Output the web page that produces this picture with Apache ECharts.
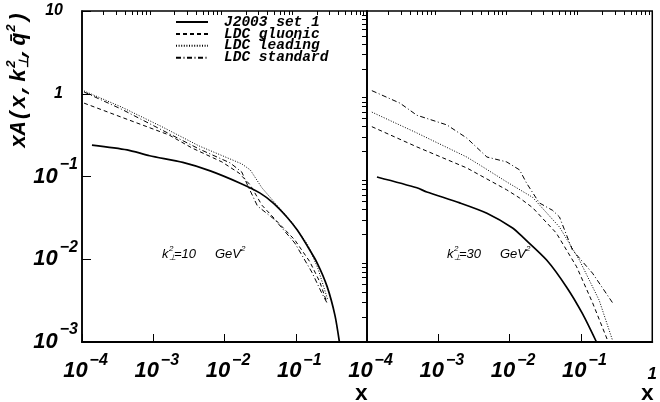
<!DOCTYPE html>
<html><head><meta charset="utf-8">
<script src="https://cdn.jsdelivr.net/npm/echarts@6/dist/echarts.min.js"></script>
<style>html,body{margin:0;padding:0;background:#fff}#c{width:660px;height:402px}</style>
</head><body><div id="c"></div>
<script>
// ---- data ----
const seriesNames = ['J2003 set 1', 'LDC gluonic', 'LDC leading', 'LDC standard'];
const panelLabels = ['10', '30']; // k_perp^2 in GeV^2

// left panel, k⊥² = 10 GeV²
const L_x_J2003 = [1.38e-4, 4.3e-4, 8.9e-4, 2.6e-3, 6.3e-3, 1.66e-2, 3.16e-2, 4.8e-2, 7.6e-2, 0.105, 0.145, 0.20, 0.275, 0.355, 0.41];
const L_y_J2003 = [0.24, 0.21, 0.178, 0.148, 0.117, 0.083, 0.063, 0.048, 0.032, 0.0225, 0.0145, 0.009, 0.0047, 0.0021, 0.001];
const L_x_gluonic = [1.07e-4, 3.6e-4, 1.66e-3, 3.5e-3, 9.2e-3, 1.6e-2, 2.3e-2, 3.35e-2, 5.6e-2, 9.7e-2, 0.158, 0.218, 0.273];
const L_y_gluonic = [0.77, 0.52, 0.318, 0.221, 0.150, 0.110, 0.079, 0.045, 0.028, 0.0171, 0.0093, 0.0053, 0.0030];
const L_x_leading = [1.07e-4, 3.6e-4, 1.32e-3, 4.4e-3, 1.75e-2, 2.3e-2, 3.35e-2, 5.1e-2, 8.8e-2, 0.148, 0.204, 0.256, 0.282];
const L_y_leading = [1.08, 0.69, 0.40, 0.234, 0.142, 0.120, 0.073, 0.048, 0.028, 0.0149, 0.0078, 0.0042, 0.0032];
const L_x_standard = [1.07e-4, 3.6e-4, 1.32e-3, 4.4e-3, 1.2e-2, 1.75e-2, 2.1e-2, 2.9e-2, 5.1e-2, 9.7e-2, 0.168, 0.232, 0.273];
const L_y_standard = [1.05, 0.65, 0.365, 0.215, 0.146, 0.113, 0.079, 0.044, 0.030, 0.0157, 0.0070, 0.0039, 0.0030];

// right panel, k⊥² = 30 GeV²
const R_x_J2003 = [1.38e-4, 5.0e-4, 6.9e-4, 2.0e-3, 4.8e-3, 1.1e-2, 1.52e-2, 3.3e-2, 6.3e-2, 0.105, 0.165];
const R_y_J2003 = [0.0986, 0.073, 0.065, 0.048, 0.036, 0.0239, 0.0186, 0.0098, 0.0046, 0.0022, 0.001];
const R_x_gluonic = [1.17e-4, 5.0e-4, 2.5e-3, 9.1e-3, 1.38e-2, 2.1e-2, 4.5e-2, 8.7e-2, 0.145, 0.235];
const R_y_gluonic = [0.40, 0.228, 0.127, 0.069, 0.055, 0.042, 0.0208, 0.0081, 0.0030, 0.00106];
const R_x_leading = [1.17e-4, 5.0e-4, 2.5e-3, 3.8e-3, 9.1e-3, 2.1e-2, 5.0e-2, 9.5e-2, 0.18, 0.276];
const R_y_leading = [0.60, 0.336, 0.172, 0.138, 0.086, 0.056, 0.0245, 0.0098, 0.0032, 0.00106];
const R_x_standard = [1.17e-4, 2.9e-4, 5.0e-4, 1.32e-3, 2.5e-3, 4.8e-3, 9.1e-3, 1.38e-2, 1.73e-2, 2.6e-2, 4.0e-2, 5.0e-2, 7.6e-2, 0.145, 0.276];
const R_y_standard = [1.09, 0.77, 0.55, 0.42, 0.292, 0.172, 0.150, 0.120, 0.083, 0.048, 0.039, 0.0324, 0.0129, 0.0068, 0.0030];

// axis ranges / ticks
const xMin = 1e-4, xMax = 1;
const yMin = 1e-3, yMax = 10;
const xDecades = [-4, -3, -2, -1];
const yDecades = [-3, -2, -1, 0];
const minorMult = [2, 3, 4, 5, 6, 7, 8, 9];

// ---- build ----
const pairs = (xs, ys) => xs.map((x, i) => [x, ys[i]]);
const minorX = [], minorY = [];
xDecades.forEach(e => minorMult.forEach(m => minorX.push(m * Math.pow(10, e))));
yDecades.forEach(e => minorMult.forEach(m => minorY.push(m * Math.pow(10, e))));

const SANS = 'Liberation Sans';
const MONO = 'Liberation Mono';
const MINUS = '\u2212';

const xRich = {
  b: {fontFamily: SANS, fontWeight: 'bold', fontStyle: 'italic', fontSize: 22, lineHeight: 36, color: '#000', padding: [0, 0, 0, 7]},
  s: {fontFamily: SANS, fontWeight: 'bold', fontStyle: 'italic', fontSize: 16, lineHeight: 14, verticalAlign: 'top', color: '#000', padding: [0, 0, 0, 2]},
  p: {fontFamily: SANS, fontWeight: 'bold', fontStyle: 'italic', fontSize: 17, lineHeight: 30, verticalAlign: 'bottom', color: '#000'}
};
const yRich = {
  b: {fontFamily: SANS, fontWeight: 'bold', fontStyle: 'italic', fontSize: 22, lineHeight: 40, color: '#000'},
  s: {fontFamily: SANS, fontWeight: 'bold', fontStyle: 'italic', fontSize: 16, lineHeight: 14, verticalAlign: 'top', color: '#000', padding: [0, 0, 0, 2]},
  p: {fontFamily: SANS, fontWeight: 'bold', fontStyle: 'italic', fontSize: 16, lineHeight: 40, color: '#000', padding: [0, 15, 0, 0]}
};
const expOf = v => Math.round(Math.log10(v));
const xFmt = hideOne => v => {
  const e = expOf(v);
  if (e === 0) return hideOne ? '' : '{p|1}';
  return '{b|10}{s|' + (e < 0 ? MINUS + (-e) : e) + '}';
};
const yFmt = v => {
  const e = expOf(v);
  if (e === 0) return '{p|1}';
  if (e === 1) return '{p|10}';
  return '{b|10}{s|' + MINUS + (-e) + '}';
};

function majorX(grid, hideOne) {
  return {
    type: 'log', logBase: 10, gridIndex: grid, min: xMin, max: xMax,
    axisLine: {show: true, onZero: false, lineStyle: {color: '#000', width: 2}},
    axisTick: {show: true, inside: true, length: 8, lineStyle: {color: '#000', width: 1}},
    axisLabel: {show: true, margin: 11, formatter: xFmt(hideOne), rich: xRich, showMinLabel: true, showMaxLabel: true, hideOverlap: false},
    splitLine: {show: false}, minorTick: {show: false}, minorSplitLine: {show: false}
  };
}
function minorAxis(grid, vals, len) {
  return {
    type: 'log', logBase: 10, gridIndex: grid,
    min: vals === minorX ? xMin : yMin, max: vals === minorX ? xMax : yMax,
    axisLine: {show: false},
    axisTick: {show: true, inside: true, length: len, customValues: vals, lineStyle: {color: '#000', width: 1}},
    axisLabel: {show: false}, splitLine: {show: false}
  };
}

const styles = [
  {width: 1.7, type: 'solid'},
  {width: 1, type: [4, 3]},
  {width: 1, type: [1, 1.6]},
  {width: 1, type: [5, 2.5, 1, 2.5]}
];
const leftData = [pairs(L_x_J2003, L_y_J2003), pairs(L_x_gluonic, L_y_gluonic), pairs(L_x_leading, L_y_leading), pairs(L_x_standard, L_y_standard)];
const rightData = [pairs(R_x_J2003, R_y_J2003), pairs(R_x_gluonic, R_y_gluonic), pairs(R_x_leading, R_y_leading), pairs(R_x_standard, R_y_standard)];

const series = [];
[leftData, rightData].forEach((panel, p) => {
  panel.forEach((d, i) => {
    series.push({
      type: 'line', name: seriesNames[i], xAxisIndex: p, yAxisIndex: p,
      data: d, symbol: 'none', showSymbol: false, smooth: i === 0 ? 0.25 : false,
      clip: true, silent: true,
      lineStyle: {color: '#000', width: styles[i].width, type: styles[i].type},
      itemStyle: {color: '#000'}
    });
  });
});

function txt(tx, x, y, o) {
  return {type: 'text', x: x, y: y, silent: true,
    style: {text: tx, fill: '#000', fontFamily: o.family, fontSize: o.size, fontWeight: o.weight || 'normal', fontStyle: o.style || 'normal',
      align: o.align || 'left', verticalAlign: 'middle', textAlign: o.align || 'left', textVerticalAlign: 'middle'}};
}
function kLabel(x, y, val) {
  const f = {family: SANS, size: 13, style: 'italic'}, fs = {family: SANS, size: 8, style: 'italic'};
  return [
    txt('k', x, y, f), txt('2', x + 7, y - 5, fs), txt('\u22A5', x + 6.5, y + 4, fs),
    txt('=' + val, x + 12, y, f), txt('GeV', x + 53, y, f), txt('2', x + 79, y - 5, fs)
  ];
}
const F = {family: MONO, size: 22, weight: 'bold', style: 'italic'};
const FS = {family: MONO, size: 13, weight: 'bold', style: 'italic'};

const graphic = [
  {type: 'group', x: 19, y: 148, rotation: Math.PI / 2, silent: true, children: [
    txt('xA(x,k', 0, 0, F), txt('2', 80, -7, FS), txt('\u22A5', 80, 6, FS),
    txt(',q\u0304', 89, 0, F), txt('2', 116, -7, FS), txt(')', 124, 0, F)
  ]},
  txt('x', 368, 394, {family: MONO, size: 22, weight: 'bold', align: 'right'}),
  txt('x', 654, 394, {family: MONO, size: 22, weight: 'bold', align: 'right'})
].concat(kLabel(162, 254, panelLabels[0])).concat(kLabel(447, 254, panelLabels[1]));

const option = {
  animation: false,
  backgroundColor: '#fff',
  grid: [
    {left: 82, top: 11, width: 285, height: 331, show: true, borderColor: '#000', borderWidth: 1.5, backgroundColor: 'rgba(0,0,0,0)'},
    {left: 367, top: 11, width: 286, height: 331, show: true, borderColor: '#000', borderWidth: 1.5, backgroundColor: 'rgba(0,0,0,0)'}
  ],
  xAxis: [majorX(0, true), majorX(1, false), minorAxis(0, minorX, 4), minorAxis(1, minorX, 4)],
  yAxis: [
    {type: 'log', logBase: 10, gridIndex: 0, min: yMin, max: yMax,
     axisLine: {show: true, onZero: false, lineStyle: {color: '#000', width: 1.5}},
     axisTick: {show: true, inside: true, length: 9, lineStyle: {color: '#000', width: 1}},
     axisLabel: {show: true, margin: 4, formatter: yFmt, rich: yRich, showMinLabel: true, showMaxLabel: true, hideOverlap: false},
     splitLine: {show: false}},
    {type: 'log', logBase: 10, gridIndex: 1, min: yMin, max: yMax,
     axisLine: {show: true, onZero: false, lineStyle: {color: '#000', width: 1.5}},
     axisTick: {show: false}, axisLabel: {show: false}, splitLine: {show: false}},
    minorAxis(0, minorY, 5)
  ],
  legend: {
    show: true, orient: 'vertical', left: 175, top: 14.5, padding: 0,
    itemWidth: 32, itemHeight: 2, itemGap: -3.1,
    selectedMode: false, data: seriesNames,
    itemStyle: {opacity: 0},
    textStyle: {fontFamily: MONO, fontWeight: 'bold', fontStyle: 'italic', fontSize: 14.5, color: '#000', padding: [0, 0, 0, 11]}
  },
  series: series,
  graphic: graphic
};

const chart = echarts.init(document.getElementById('c'), null, {renderer: 'canvas'});
chart.setOption(option);
</script>
</body></html>
